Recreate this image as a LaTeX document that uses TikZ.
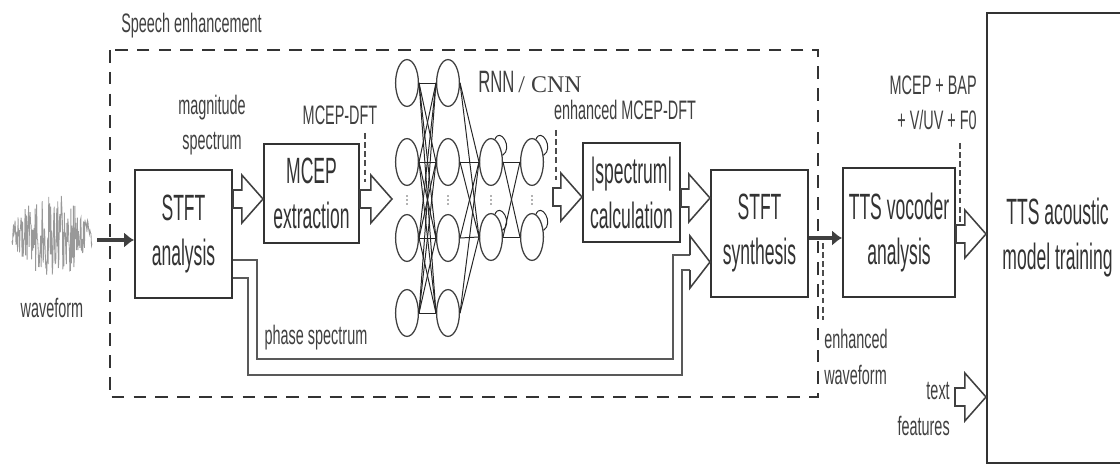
\documentclass[tikz,border=0pt]{standalone}
\usepackage{fontspec}
\usetikzlibrary{calc}
\usetikzlibrary{shapes.geometric}
\usetikzlibrary{arrows.meta}

\newfontfamily\boxfont{Liberation Sans}[FakeStretch=0.48]
\newfontfamily\labelfont{Liberation Sans}[FakeStretch=0.54]
\newfontfamily\serifont{Liberation Serif}

\tikzset{
  block/.style={draw=black!80, line width=1.4pt, inner sep=0pt, align=center,
    text=black!80, font=\boxfont\fontsize{26}{32}\selectfont},
  lbl/.style={inner sep=0pt, align=center, text=black!75,
    font=\labelfont\fontsize{19}{25}\selectfont},
  hollow/.style={draw=black!75, line width=1.1pt, fill=white, line join=miter},
  tag/.style={draw=black!70, line width=0.8pt, dash pattern=on 4pt off 2.5pt},
  flow/.style={draw=black!75, line width=2.2pt, -{Latex[length=7pt,width=11pt]}},
  neuron/.style={draw=black!75, line width=0.9pt, ellipse, inner sep=0pt,
    minimum width=0.57cm, minimum height=1.17cm},
  syn/.style={draw=black!85, line width=0.7pt},
  pipe/.style={draw=black!65, line width=1.2pt},
}

% block arrow from #1 to #2 (only x is used), centred on height #3
\newcommand{\hollowarrow}[3]{%
  \draw[hollow] let \p1=(#1), \p2=(#2), \p3=(0,#3) in
    (\x1,\y3+6.4pt) -- (\x2-15pt,\y3+6.4pt) -- (\x2-15pt,\y3+17pt) -- (\x2,\y3)
    -- (\x2-15pt,\y3-17pt) -- (\x2-15pt,\y3-6.4pt) -- (\x1,\y3-6.4pt) -- cycle;}

\begin{document}
\begin{tikzpicture}[x=0.025cm, y=-0.025cm]
\useasboundingbox (0,0) rectangle (1120,466);

%enhancement frame
\draw[black!80, line width=1.4pt, dash pattern=on 9pt off 6.5pt] (110,50) rectangle (818,397);
\node[lbl, anchor=west] (se) at (121,26) {Speech enhancement};

%input signal
\pgfmathsetseed{3}
\draw[black!40, line width=0.6pt] plot[domain=12:92, samples=160]
  (\x, {236 + 42*rand*(0.3+0.7*sin(180*(\x-12)/80))});
\coordinate (wavout) at (97,240);
\node[lbl] (wav) at (52,308) {waveform};

%processing blocks
\node[block, minimum width=2.425cm, minimum height=3.2cm] (stfta) at (183.5,234) {STFT\\analysis};
\node[block, minimum width=2.375cm, minimum height=2.475cm] (mcep) at (311.5,193.5) {MCEP\\extraction};
\node[block, minimum width=2.425cm, minimum height=2.475cm] (spec) at (631.5,192.5) {|spectrum|\\calculation};
\node[block, minimum width=2.425cm, minimum height=3.175cm] (synth) at (759.5,233.5) {STFT\\synthesis};
\node[block, minimum width=2.8cm, minimum height=3.225cm] (tts) at (899,232.5) {TTS vocoder\\analysis};
\node[block, minimum width=3.525cm, minimum height=11.25cm] (am) at (1057.5,238) {TTS acoustic\\model training};

%network
\foreach \c/\x in {1/407,2/448}
  \foreach \r/\y in {1/83,2/162,3/238,4/313}
    \node[neuron] (n\c\r) at (\x,\y) {};
\foreach \c/\x in {3/491,4/532}
  \foreach \r/\y in {1/162,2/237}
    \node[neuron] (n\c\r) at (\x,\y) {};
\foreach \i in {1,...,4}
  \foreach \j in {1,...,4}
    \draw[syn] (n1\i.east) -- (n2\j.west);
\foreach \i in {1,...,4}
  \foreach \j in {1,2}
    \draw[syn] (n2\i.east) -- (n3\j.west);
\foreach \i in {1,2}
  \foreach \j in {1,2}
    \draw[syn] (n3\i.east) -- (n4\j.west);
\foreach \k in {31,32,41,42}
  \draw[syn] (n\k.80) .. controls +(5,-13) and +(11,-7) .. (n\k.30);
\foreach \x in {407,448,491,532}
  \foreach \d in {-4,0,4}
    \fill[black!60] (\x,200+\d) circle (0.6pt);
\coordinate (nnin) at (392,199);
\coordinate (nnout) at (553,199);
\node[lbl, anchor=west] (nnlbl) at (478,82)
  {{\fontsize{22}{24}\selectfont RNN} {\serifont\fontsize{17}{20}\selectfont / CNN}};

%feature labels
\node[lbl] (mag) at (212,125) {magnitude\\spectrum};
\node[lbl] (dft) at (340,115) {MCEP-DFT};
\node[lbl] (edft) at (625,110) {enhanced MCEP-DFT};
\node[lbl] (phase) at (316,338) {phase spectrum};
\node[lbl, anchor=east, align=right] (feat) at (977,103) {MCEP + BAP\\+ V/UV + F0};
\node[lbl, anchor=west, align=left] (ewav) at (824,357) {enhanced\\waveform};
\node[lbl, anchor=east, align=right] (txt) at (950,409) {text\\features};
\coordinate (txtout) at (955,397);

\draw[tag] (365,133) -- (365,182);
\draw[tag] (556,130) -- (556,180);
\draw[tag] (960,143) -- (960,227);
\draw[tag] (823,243) -- (823,320);

%signal flow
\draw[flow] (wavout) -- (stfta.west |- wavout);
\draw[flow] (synth.east |- 0,238) -- (tts.west |- 0,238);

\hollowarrow{stfta.east}{mcep.west}{199}
\hollowarrow{mcep.east}{nnin}{199}
\hollowarrow{nnout}{spec.west}{197}
\hollowarrow{spec.east}{synth.west}{198}
\hollowarrow{tts.east}{am.west}{234}
\hollowarrow{txtout}{am.west}{397}

%phase path
\draw[pipe] (stfta.east |- 0,260) -- (257,260) -- (257,359) -- (673,359) -- (673,255) -- (690,255);
\draw[pipe] (stfta.east |- 0,278) -- (248,278) -- (248,375) -- (682,375) -- (682,270) -- (690,270);
\draw[hollow] (690,255) -- (690,236) -- (synth.west |- 0,262) -- (690,288) -- (690,270);
\end{tikzpicture}
\end{document}
